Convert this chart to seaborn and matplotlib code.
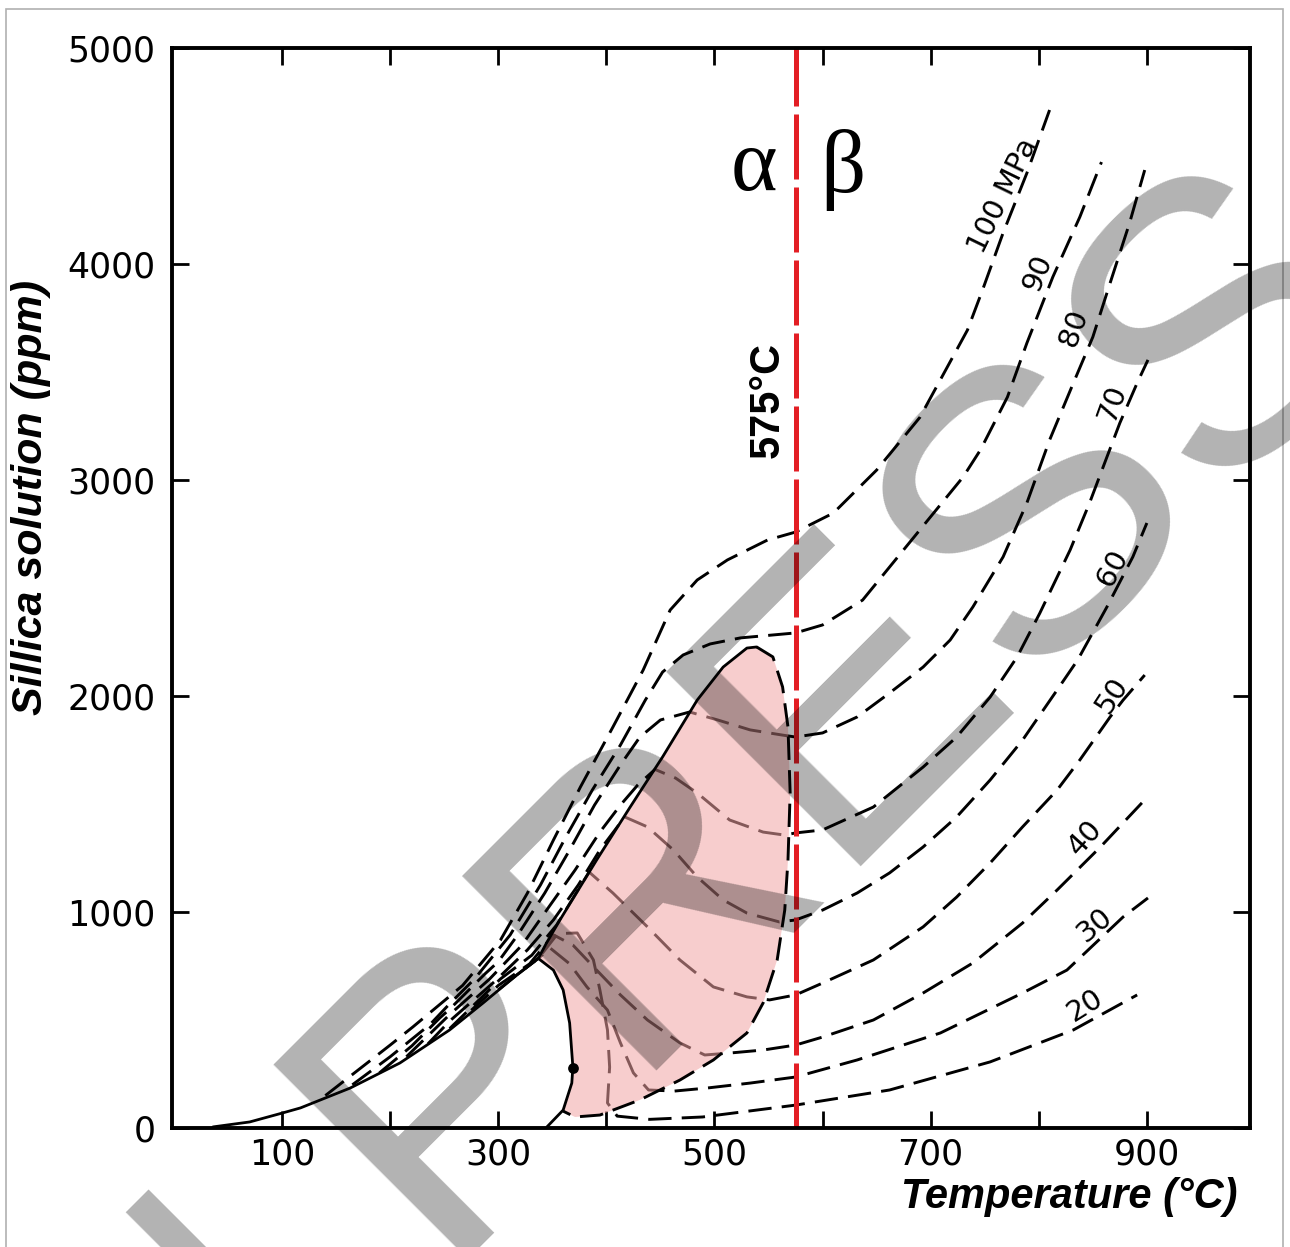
import numpy as np
import matplotlib
matplotlib.use("Agg")
import matplotlib.pyplot as plt
import seaborn as sns
from matplotlib.patches import Rectangle

# ---------------- data (Temperature °C, silica ppm) ----------------
# solid liquid-vapour solubility curve up to the bubble top
lv_T = [36, 70, 100, 117, 163, 209, 255, 286, 317, 337]
lv_S = [5, 28, 69, 93, 185, 301, 454, 579, 708, 785]
# solid locus of isobar maxima (left edge of the pink field)
max_T = [337, 345, 357, 391, 422, 452, 484, 508, 530, 539]
max_S = [785, 860, 963, 1241, 1486, 1718, 1981, 2134, 2222, 2227]
# dashed locus of isobar minima (right / lower edge of the pink field)
min_T = [539, 554, 563, 568, 570, 568, 565, 558, 545, 530, 499, 468, 431, 394, 371, 360]
min_S = [2227, 2181, 2042, 1856, 1551, 1241, 1009, 778, 579, 440, 315, 222, 130, 60, 51, 78]
# solid right side of the white bubble
bub_T = [337, 351, 360, 366, 369, 368, 360, 345]
bub_S = [785, 731, 639, 486, 282, 208, 83, 5]
dot_T = [369]
dot_S = [278]

# isobars (MPa)
p100_T = [140, 200, 221, 255, 267, 302, 327, 351, 376, 406, 434, 459, 484, 512, 549, 575, 610, 650, 690, 734, 748, 767, 789, 810]
p100_S = [150, 384, 468, 610, 660, 870, 1088, 1333, 1579, 1856, 2120, 2398, 2537, 2630, 2722, 2759, 2847, 3046, 3290, 3694, 3880, 4144, 4421, 4713]
p90_T = [165, 200, 237, 255, 278, 311, 339, 362, 387, 413, 436, 452, 471, 496, 524, 575, 600, 637, 690, 730, 746, 771, 789, 813, 838, 858]
p90_S = [200, 330, 480, 575, 690, 894, 1125, 1343, 1565, 1773, 1981, 2111, 2190, 2241, 2269, 2292, 2329, 2444, 2769, 3014, 3139, 3384, 3634, 3940, 4218, 4472]
p80_T = [190, 220, 246, 255, 288, 300, 318, 343, 366, 389, 413, 431, 450, 477, 503, 533, 563, 575, 600, 632, 662, 693, 718, 739, 767, 789, 810, 832, 850, 866, 884, 898]
p80_S = [255, 380, 510, 550, 715, 770, 894, 1088, 1287, 1495, 1681, 1810, 1889, 1926, 1889, 1843, 1819, 1810, 1829, 1903, 2014, 2134, 2259, 2412, 2644, 2894, 3185, 3449, 3662, 3912, 4190, 4435]
p70_T = [215, 255, 292, 322, 348, 371, 394, 413, 429, 445, 464, 484, 514, 545, 565, 575, 600, 647, 693, 724, 755, 780, 801, 829, 847, 863, 875, 891, 901]
p70_S = [330, 525, 690, 847, 1032, 1194, 1370, 1495, 1588, 1660, 1620, 1551, 1426, 1370, 1356, 1366, 1380, 1486, 1671, 1810, 1995, 2181, 2384, 2676, 2894, 3106, 3264, 3449, 3556]
p60_T = [235, 255, 297, 327, 351, 374, 394, 408, 417, 438, 462, 484, 508, 530, 560, 575, 600, 632, 662, 693, 724, 755, 785, 817, 836, 863, 887, 900]
p60_S = [390, 495, 680, 825, 963, 1125, 1287, 1380, 1440, 1394, 1287, 1162, 1056, 995, 954, 963, 1009, 1088, 1181, 1301, 1440, 1611, 1796, 2028, 2167, 2412, 2644, 2801]
p50_T = [255, 302, 331, 354, 371, 384, 406, 438, 468, 499, 530, 551, 575, 600, 647, 693, 724, 755, 785, 817, 838, 866, 878, 898]
p50_S = [460, 690, 800, 940, 1079, 1185, 1088, 931, 778, 653, 607, 593, 616, 671, 778, 931, 1069, 1227, 1394, 1565, 1704, 1903, 1981, 2097]
p40_T = [275, 300, 329, 351, 369, 391, 413, 438, 468, 491, 514, 545, 575, 600, 647, 693, 739, 785, 817, 857, 898]
p40_S = [545, 660, 760, 894, 847, 731, 616, 500, 394, 338, 347, 361, 384, 421, 500, 625, 764, 949, 1102, 1301, 1519]
p30_T = [300, 320, 337, 348, 366, 382, 401, 413, 425, 439, 463, 493, 533, 575, 632, 709, 785, 826, 878, 901]
p30_S = [640, 720, 785, 833, 760, 653, 546, 394, 255, 176, 171, 185, 208, 236, 315, 440, 625, 731, 977, 1065]
p20_T = [317, 337, 355, 373, 388, 394, 401, 403, 401, 410, 440, 489, 575, 662, 755, 832, 891]
p20_S = [708, 785, 900, 903, 778, 639, 454, 282, 116, 55, 40, 51, 106, 176, 306, 454, 616]

# isobar labels: text, T, S, angle
lab_text = ["100 MPa", "90", "80", "70", "60", "50", "40", "30", "20"]
lab_T = [767, 799, 832, 868, 868, 868, 843, 852, 843]
lab_S = [4315, 3958, 3704, 3356, 2593, 2005, 1343, 940, 569]
lab_rot = [64, 68, 70, 70, 62, 57, 48, 40, 32]

transition_T = 575
x_ticks = [100, 200, 300, 400, 500, 600, 700, 800, 900]
x_ticklabels = ["100", "", "300", "", "500", "", "700", "", "900"]
y_ticks = [0, 1000, 2000, 3000, 4000, 5000]

# ---------------- figure ----------------
sns.set_theme(style="ticks")
plt.rcParams['font.family'] = ['DejaVu Sans']
plt.rcParams['text.color'] = 'black'
plt.rcParams['axes.labelcolor'] = 'black'

W, H = 1290, 1247
fig = plt.figure(figsize=(W / 100, H / 100), dpi=100)
fig.patch.set_facecolor("white")
ax = fig.add_axes([172 / W, 1 - 1128 / H, (1250 - 172) / W, (1128 - 48) / H])
ax.set_facecolor("white")
ax.set_xlim(-1.85, 995.4)
ax.set_ylim(y_ticks[0], y_ticks[-1])

DASH = (0, (8, 3.5))
iso_T = [p100_T, p90_T, p80_T, p70_T, p60_T, p50_T, p40_T, p30_T, p20_T]
iso_S = [p100_S, p90_S, p80_S, p70_S, p60_S, p50_S, p40_S, p30_S, p20_S]
for T, S in zip(iso_T, iso_S):
    sns.lineplot(x=T, y=S, sort=False, estimator=None, ax=ax, color="black",
                 lw=2.1, linestyle=DASH, zorder=2)

# pink retrograde field (overlays the isobars)
poly_T = max_T + min_T[1:] + bub_T[::-1][2:-1]
poly_S = max_S + min_S[1:] + bub_S[::-1][2:-1]
ax.fill(poly_T, poly_S, color=(242 / 255, 164 / 255, 164 / 255), alpha=0.55, lw=0, zorder=3)

sns.lineplot(x=lv_T, y=lv_S, sort=False, estimator=None, ax=ax, color="black", lw=2.0, zorder=4)
sns.lineplot(x=max_T, y=max_S, sort=False, estimator=None, ax=ax, color="black", lw=2.0, zorder=4)
sns.lineplot(x=bub_T, y=bub_S, sort=False, estimator=None, ax=ax, color="black", lw=2.0, zorder=4)
sns.lineplot(x=min_T, y=min_S, sort=False, estimator=None, ax=ax, color="black",
             lw=2.1, linestyle=DASH, zorder=4)
sns.scatterplot(x=dot_T, y=dot_S, ax=ax, color="black", s=60, linewidth=0, zorder=5)

# alpha/beta transition line
sns.lineplot(x=[transition_T, transition_T], y=[y_ticks[0], y_ticks[-1]], sort=False,
             estimator=None, ax=ax, color="#e31e24", lw=3.6, linestyle=(0, (13, 1.6)), zorder=5)

ax.text(536, 4444, "α", fontsize=64, family="Liberation Serif", color="black",
        ha="center", va="center", zorder=6)
ax.text(619, 4435, "β", fontsize=64, family="Liberation Serif", color="black",
        ha="center", va="center", zorder=6)
ax.text(549, 3370, "575°C", fontsize=30, fontweight="bold", family="Liberation Sans",
        color="black", rotation=90, ha="center", va="center", zorder=6)

for t, x, y, r in zip(lab_text, lab_T, lab_S, lab_rot):
    ax.text(x, y, t, fontsize=21, rotation=r, ha="center", va="center", color="black",
            rotation_mode="anchor", zorder=6)

# axes styling
ax.set_xticks(x_ticks)
ax.set_xticklabels(x_ticklabels)
ax.set_yticks(y_ticks)
ax.set_yticklabels([str(v) for v in y_ticks])
ax.tick_params(direction="in", length=12, width=2, top=True, right=True,
               labelsize=25, colors="black")
ax.tick_params(axis="y", pad=12)
ax.tick_params(axis="x", pad=7)
for sp in ax.spines.values():
    sp.set_linewidth(2.8)
    sp.set_color("black")
    sp.set_zorder(7)

ax.set_xlabel("Temperature (°C)", fontsize=30, fontweight="bold", fontstyle="italic",
              family="Liberation Sans", ha="right", va="center", color="black")
ax.xaxis.set_label_coords(0.988, -0.064)
ax.set_ylabel("Sillica solution (ppm)", fontsize=31, fontweight="bold", fontstyle="italic",
              family="Liberation Sans", ha="center", va="center", color="black")
ax.yaxis.set_label_coords(-0.131, 0.584)

# thin grey frame around the picture
fig.add_artist(Rectangle((6 / W, -0.01), (1283 - 6) / W, 1 - 9 / H + 0.01,
                         transform=fig.transFigure, fill=False, edgecolor="#b0b0b0", lw=1.2))

# grey watermark
fig.text(671.5 / W, 1 - 910 / H, "IN PRESS", fontsize=288, family="Liberation Sans",
         color="black", alpha=0.3, rotation=45, ha="center", va="center",
         rotation_mode="anchor", zorder=20)

fig.savefig("out.png", dpi=100)
